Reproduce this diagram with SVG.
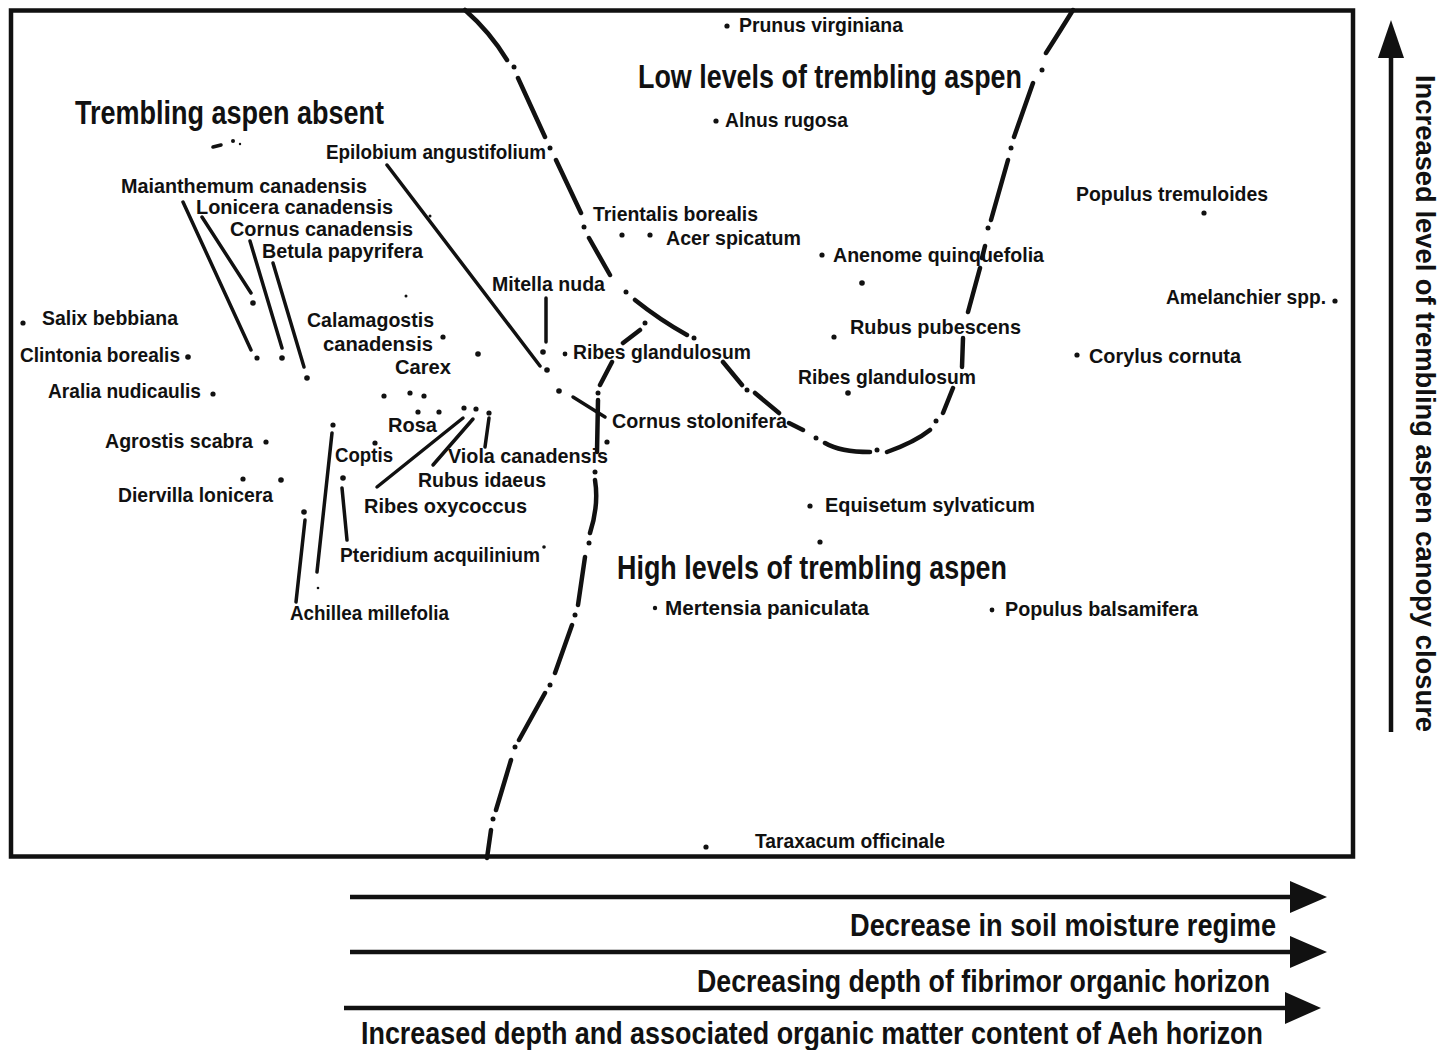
<svg xmlns="http://www.w3.org/2000/svg" width="1439" height="1050" viewBox="0 0 1439 1050">
  <style>
    text { font-family: "Liberation Sans", Arial, Helvetica, sans-serif; font-weight: bold; fill: #111; }
    .sp { font-size: 21px; }
    .sp.tight { font-size: 19.5px; }
    .title { font-size: 33px; }
    .axis { font-size: 31px; }
    .vaxis { font-size: 28px; }
    .dot { fill: #111; }
    .lead { stroke: #111; stroke-width: 3.5; stroke-linecap: round; fill: none; }
    .bound { stroke: #111; stroke-width: 4.5; stroke-linecap: round; fill: none; }
    .frame { stroke: #111; stroke-width: 4.5; fill: none; }
    .shaft { stroke: #111; stroke-width: 4.5; }
  </style>

  <!-- plot frame -->
  <rect class="frame" x="11" y="10.5" width="1342" height="846"/>

  <!-- dash-dot zone boundaries -->
  <g id="boundaries">
    <!-- upper U-shaped boundary -->
    <path class="bound" d="M465,10 Q490,32 507,60 M518,78 L545,137 M556,160 L581,213 M589,238 L610,275 M635,300 Q660,320 687,335 M723,362 L742,385 M755,393 L779,413 M789,423 L803,430 M825,443 Q840,452 870,452 M887,452 Q915,442 930,430 M943,413 L953,388 M962,367 L963,338 M968,312 L980,268 M982,258 L985,246 M991,220 L1008,160 M1014,137 L1033,83 M1046,53 Q1062,28 1073,10"/>
    <g class="dot">
      <circle cx="514" cy="67" r="2.5"/>
      <circle cx="550" cy="148" r="2.5"/>
      <circle cx="584" cy="227" r="2.5"/>
      <circle cx="626" cy="292" r="2.5"/>
      <circle cx="694" cy="338" r="2.5"/>
      <circle cx="747" cy="390" r="2.5"/>
      <circle cx="816" cy="438" r="2.5"/>
      <circle cx="877" cy="450" r="2.5"/>
      <circle cx="936" cy="421" r="2.5"/>
      <circle cx="988" cy="228" r="2.5"/>
      <circle cx="1011" cy="148" r="2.5"/>
      <circle cx="1042" cy="70" r="2.5"/>
    </g>
    <!-- lower boundary running down to the base -->
    <path class="bound" d="M640,330 L623,343 M612,362 L600,385 M598,400 L597,452 M595,480 Q599,505 590,533 M585,557 L578,605 M572,625 L555,673 M545,693 L519,740 M511,760 L496,810 M491,830 L487,858"/>
    <g class="dot">
      <circle cx="645" cy="323" r="2.5"/>
      <circle cx="598" cy="393" r="2.5"/>
      <circle cx="595" cy="472" r="2.5"/>
      <circle cx="589" cy="543" r="2.5"/>
      <circle cx="575" cy="615" r="2.5"/>
      <circle cx="550" cy="685" r="2.5"/>
      <circle cx="515" cy="747" r="2.5"/>
      <circle cx="493" cy="819" r="2.5"/>
    </g>
  </g>

  <!-- leader lines from labels to their points -->
  <g id="connectors">
    <line class="lead" x1="183" y1="202" x2="251" y2="350"/>
    <line class="lead" x1="202" y1="217" x2="251" y2="293"/>
    <line class="lead" x1="250" y1="241" x2="282" y2="348"/>
    <line class="lead" x1="273" y1="263" x2="304" y2="367"/>
    <line class="lead" x1="387" y1="165" x2="540" y2="366"/>
    <line class="lead" x1="546" y1="298" x2="546" y2="342"/>
    <line class="lead" x1="573" y1="397" x2="605" y2="417"/>
    <line class="lead" x1="463" y1="418" x2="377" y2="487"/>
    <line class="lead" x1="473" y1="419" x2="433" y2="465"/>
    <line class="lead" x1="489" y1="418" x2="485" y2="447"/>
    <line class="lead" x1="332" y1="433" x2="317" y2="572"/>
    <line class="lead" x1="305" y1="520" x2="296" y2="602"/>
    <line class="lead" x1="342" y1="488" x2="347" y2="540"/>
  </g>

  <!-- species points -->
  <g id="points" class="dot">
    <circle cx="727" cy="26" r="2.6"/>
    <circle cx="716" cy="121" r="2.6"/>
    <circle cx="622" cy="235" r="2.6"/>
    <circle cx="650" cy="235" r="2.6"/>
    <circle cx="822" cy="255" r="2.6"/>
    <circle cx="862" cy="283" r="2.8"/>
    <circle cx="834" cy="337" r="2.6"/>
    <circle cx="848" cy="393" r="2.8"/>
    <circle cx="1204" cy="213" r="2.6"/>
    <circle cx="1335" cy="301" r="2.6"/>
    <circle cx="1077" cy="355" r="2.6"/>
    <circle cx="23" cy="323" r="2.6"/>
    <circle cx="188" cy="357" r="2.8"/>
    <circle cx="213" cy="394" r="2.6"/>
    <circle cx="253" cy="303" r="2.8"/>
    <circle cx="257" cy="358" r="2.6"/>
    <circle cx="282" cy="358" r="2.8"/>
    <circle cx="307" cy="378" r="2.8"/>
    <circle cx="406" cy="296" r="1.5"/>
    <circle cx="430" cy="216" r="1.5"/>
    <circle cx="443" cy="337" r="2.6"/>
    <circle cx="478" cy="354" r="2.8"/>
    <circle cx="384" cy="396" r="2.6"/>
    <circle cx="410" cy="393" r="2.6"/>
    <circle cx="424" cy="396" r="2.6"/>
    <circle cx="418" cy="412" r="2.6"/>
    <circle cx="439" cy="412" r="2.6"/>
    <circle cx="464" cy="408" r="2.6"/>
    <circle cx="476" cy="409" r="2.6"/>
    <circle cx="489" cy="413" r="2.6"/>
    <circle cx="375" cy="443" r="2.6"/>
    <circle cx="333" cy="425" r="2.6"/>
    <circle cx="343" cy="478" r="2.8"/>
    <circle cx="304" cy="512" r="2.8"/>
    <circle cx="266" cy="442" r="2.6"/>
    <circle cx="243" cy="479" r="2.6"/>
    <circle cx="281" cy="480" r="2.8"/>
    <circle cx="544" cy="547" r="1.8"/>
    <circle cx="543" cy="352" r="2.8"/>
    <circle cx="547" cy="370" r="2.8"/>
    <circle cx="565" cy="354" r="2.4"/>
    <circle cx="559" cy="391" r="2.8"/>
    <circle cx="607" cy="442" r="2.6"/>
    <circle cx="810" cy="506" r="2.6"/>
    <circle cx="820" cy="542" r="2.6"/>
    <circle cx="655" cy="608" r="2.2"/>
    <circle cx="992" cy="610" r="2.4"/>
    <circle cx="706" cy="847" r="2.6"/>
    <circle cx="318" cy="588" r="1.3"/>
    <circle cx="233" cy="141" r="2"/>
    <circle cx="240" cy="144" r="1.2"/>
    <line class="lead" x1="213" y1="147" x2="221" y2="145"/>
  </g>

  <!-- zone titles -->
  <g id="zone-absent"><text class="title" x="75" y="124" textLength="309" lengthAdjust="spacingAndGlyphs">Trembling aspen absent</text></g>
  <g id="zone-low"><text class="title" x="638" y="88" textLength="384" lengthAdjust="spacingAndGlyphs">Low levels of trembling aspen</text></g>
  <g id="zone-high"><text class="title" x="617" y="579" textLength="390" lengthAdjust="spacingAndGlyphs">High levels of trembling aspen</text></g>

  <!-- species labels -->
  <g id="prunus"><text class="sp" x="739" y="32" textLength="164" lengthAdjust="spacingAndGlyphs">Prunus virginiana</text></g>
  <g id="alnus"><text class="sp" x="725" y="127" textLength="123" lengthAdjust="spacingAndGlyphs">Alnus rugosa</text></g>
  <g id="epilobium"><text class="sp" x="326" y="159" textLength="220" lengthAdjust="spacingAndGlyphs">Epilobium angustifolium</text></g>
  <g id="maianthemum"><text class="sp" x="121" y="193" textLength="246" lengthAdjust="spacingAndGlyphs">Maianthemum canadensis</text></g>
  <g id="lonicera"><text class="sp tight" x="196" y="214" textLength="197" lengthAdjust="spacingAndGlyphs">Lonicera canadensis</text></g>
  <g id="cornus-can"><text class="sp tight" x="230" y="236" textLength="183" lengthAdjust="spacingAndGlyphs">Cornus canadensis</text></g>
  <g id="betula"><text class="sp tight" x="262" y="258" textLength="161" lengthAdjust="spacingAndGlyphs">Betula papyrifera</text></g>
  <g id="trientalis"><text class="sp" x="593" y="221" textLength="165" lengthAdjust="spacingAndGlyphs">Trientalis borealis</text></g>
  <g id="acer"><text class="sp" x="666" y="245" textLength="135" lengthAdjust="spacingAndGlyphs">Acer spicatum</text></g>
  <g id="anenome"><text class="sp" x="833" y="262" textLength="211" lengthAdjust="spacingAndGlyphs">Anenome quinquefolia</text></g>
  <g id="populus-trem"><text class="sp" x="1076" y="201" textLength="192" lengthAdjust="spacingAndGlyphs">Populus tremuloides</text></g>
  <g id="amelanchier"><text class="sp" x="1166" y="304" textLength="160" lengthAdjust="spacingAndGlyphs">Amelanchier spp.</text></g>
  <g id="salix"><text class="sp" x="42" y="325" textLength="136" lengthAdjust="spacingAndGlyphs">Salix bebbiana</text></g>
  <g id="clintonia"><text class="sp" x="20" y="362" textLength="160" lengthAdjust="spacingAndGlyphs">Clintonia borealis</text></g>
  <g id="aralia"><text class="sp" x="48" y="398" textLength="153" lengthAdjust="spacingAndGlyphs">Aralia nudicaulis</text></g>
  <g id="calamagostis">
    <text class="sp" x="307" y="327" textLength="127" lengthAdjust="spacingAndGlyphs">Calamagostis</text>
    <text class="sp" x="323" y="351" textLength="110" lengthAdjust="spacingAndGlyphs">canadensis</text>
  </g>
  <g id="carex"><text class="sp" x="395" y="374" textLength="56" lengthAdjust="spacingAndGlyphs">Carex</text></g>
  <g id="mitella"><text class="sp" x="492" y="291" textLength="113" lengthAdjust="spacingAndGlyphs">Mitella nuda</text></g>
  <g id="ribes-gland-1"><text class="sp" x="573" y="359" textLength="178" lengthAdjust="spacingAndGlyphs">Ribes glandulosum</text></g>
  <g id="rubus-pub"><text class="sp" x="850" y="334" textLength="171" lengthAdjust="spacingAndGlyphs">Rubus pubescens</text></g>
  <g id="ribes-gland-2"><text class="sp" x="798" y="384" textLength="178" lengthAdjust="spacingAndGlyphs">Ribes glandulosum</text></g>
  <g id="corylus"><text class="sp" x="1089" y="363" textLength="152" lengthAdjust="spacingAndGlyphs">Corylus cornuta</text></g>
  <g id="rosa"><text class="sp" x="388" y="432" textLength="49" lengthAdjust="spacingAndGlyphs">Rosa</text></g>
  <g id="cornus-stol"><text class="sp" x="612" y="428" textLength="175" lengthAdjust="spacingAndGlyphs">Cornus stolonifera</text></g>
  <g id="agrostis"><text class="sp" x="105" y="448" textLength="148" lengthAdjust="spacingAndGlyphs">Agrostis scabra</text></g>
  <g id="coptis"><text class="sp" x="335" y="462" textLength="58" lengthAdjust="spacingAndGlyphs">Coptis</text></g>
  <g id="viola"><text class="sp" x="448" y="463" textLength="160" lengthAdjust="spacingAndGlyphs">Viola canadensis</text></g>
  <g id="rubus-id"><text class="sp" x="418" y="487" textLength="128" lengthAdjust="spacingAndGlyphs">Rubus idaeus</text></g>
  <g id="diervilla"><text class="sp" x="118" y="502" textLength="155" lengthAdjust="spacingAndGlyphs">Diervilla lonicera</text></g>
  <g id="ribes-oxy"><text class="sp" x="364" y="513" textLength="163" lengthAdjust="spacingAndGlyphs">Ribes oxycoccus</text></g>
  <g id="equisetum"><text class="sp" x="825" y="512" textLength="210" lengthAdjust="spacingAndGlyphs">Equisetum sylvaticum</text></g>
  <g id="pteridium"><text class="sp" x="340" y="562" textLength="200" lengthAdjust="spacingAndGlyphs">Pteridium acquilinium</text></g>
  <g id="achillea"><text class="sp" x="290" y="620" textLength="159" lengthAdjust="spacingAndGlyphs">Achillea millefolia</text></g>
  <g id="mertensia"><text class="sp" x="665" y="615" textLength="204" lengthAdjust="spacingAndGlyphs">Mertensia paniculata</text></g>
  <g id="populus-bal"><text class="sp" x="1005" y="616" textLength="193" lengthAdjust="spacingAndGlyphs">Populus balsamifera</text></g>
  <g id="taraxacum"><text class="sp" x="755" y="848" textLength="190" lengthAdjust="spacingAndGlyphs">Taraxacum officinale</text></g>

  <!-- vertical gradient axis -->
  <g id="axis-canopy">
    <line class="shaft" x1="1391" y1="732" x2="1391" y2="52"/>
    <polygon class="dot" points="1378,58 1391,20 1404,58"/>
    <text class="vaxis" transform="translate(1416,75) rotate(90)" textLength="657" lengthAdjust="spacingAndGlyphs">Increased level of trembling aspen canopy closure</text>
  </g>

  <!-- horizontal gradient axes -->
  <g id="axis-moisture">
    <line class="shaft" x1="350" y1="897" x2="1295" y2="897"/>
    <polygon class="dot" points="1290,881 1327,897 1290,913"/>
    <text class="axis" x="850" y="936" textLength="426" lengthAdjust="spacingAndGlyphs">Decrease in soil moisture regime</text>
  </g>
  <g id="axis-fibrimor">
    <line class="shaft" x1="350" y1="952" x2="1295" y2="952"/>
    <polygon class="dot" points="1290,936 1327,952 1290,968"/>
    <text class="axis" x="697" y="992" textLength="573" lengthAdjust="spacingAndGlyphs">Decreasing depth of fibrimor organic horizon</text>
  </g>
  <g id="axis-aeh">
    <line class="shaft" x1="344" y1="1008" x2="1290" y2="1008"/>
    <polygon class="dot" points="1285,992 1321,1008 1285,1024"/>
    <text class="axis" x="361" y="1044" textLength="902" lengthAdjust="spacingAndGlyphs">Increased depth and associated organic matter content of Aeh horizon</text>
  </g>
</svg>
